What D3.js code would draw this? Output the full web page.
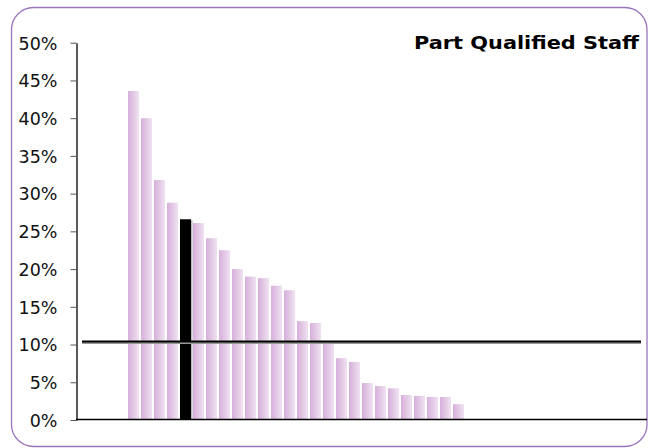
<!DOCTYPE html>
<html><head><meta charset="utf-8">
<script src="https://cdn.jsdelivr.net/npm/d3@7"></script>
<style>body{margin:0;background:#fff}svg{display:block}</style>
</head><body><svg id="c" width="656" height="448"></svg>
<script>
const categories = d3.range(1, 27).map(String);
const values = [43.6, 40.0, 31.8, 28.8, 26.6, 26.1, 24.1, 22.5, 20.0, 19.0, 18.8, 17.8, 17.2,
                13.1, 12.85, 10.4, 8.2, 7.7, 4.9, 4.5, 4.2, 3.3, 3.2, 3.05, 3.05, 2.1];
const highlight = ["5"];
const average = 10.4;
const yTicks = [0, 5, 10, 15, 20, 25, 30, 35, 40, 45, 50];
const title = "Part Qualified Staff";

const svg = d3.select("#c");
const defs = svg.append("defs");
const g = defs.append("linearGradient").attr("id","bg").attr("x1","0").attr("x2","1").attr("y1","0").attr("y2","0");
g.append("stop").attr("offset","0").attr("stop-color","#d6afda");
g.append("stop").attr("offset","1").attr("stop-color","#f0e2f2");

svg.append("rect").attr("x",11.5).attr("y",7.5).attr("width",635.5).attr("height",439)
  .attr("rx",22).attr("ry",22).attr("fill","#fff").attr("stroke","#9a74bc").attr("stroke-width",1.3);

const y = d3.scaleLinear().domain([0,50]).range([420,42.7]);
const x = d3.scaleBand().domain(categories).range([127,465]).paddingInner(0.15).paddingOuter(0.075);

svg.append("g").selectAll("rect").data(values).join("rect")
  .attr("x",(d,i)=>x(categories[i])).attr("width",x.bandwidth())
  .attr("y",d=>y(d)).attr("height",d=>y(0)-y(d))
  .attr("fill",(d,i)=>highlight.includes(categories[i])?"#000":"url(#bg)");
values.forEach((d,i)=>{ if(highlight.includes(categories[i])){
  svg.append("rect").attr("x",x(categories[i])+x.bandwidth()).attr("width",1.5)
   .attr("y",y(d)+1).attr("height",y(0)-y(d)-1).attr("fill","#bbb");
}});

const ya = d3.axisLeft(y).tickValues(yTicks).tickFormat(d=>d+"%").tickSize(6).tickSizeOuter(0);
const ay = svg.append("g").attr("transform","translate(76.5,0)").call(ya);
ay.select(".domain").attr("stroke","#000").attr("stroke-width",1.3);
ay.selectAll(".tick line").attr("stroke","#555");
ay.selectAll(".tick text").attr("font-family","DejaVu Sans, Verdana, sans-serif").attr("font-size",17.5)
  .attr("fill","#111").attr("x",-19).attr("dy","0.36em");

svg.append("line").attr("x1",76).attr("x2",647).attr("y1",y(0)-0.5).attr("y2",y(0)-0.5)
  .attr("stroke","#000").attr("stroke-width",1.5);

svg.append("line").attr("x1",82).attr("x2",641).attr("y1",y(average)+1.2).attr("y2",y(average)+1.2)
  .attr("stroke","#999").attr("stroke-width",2.5);
svg.append("line").attr("x1",82).attr("x2",641).attr("y1",y(average)).attr("y2",y(average))
  .attr("stroke","#000").attr("stroke-width",2.2);

svg.append("text").attr("x",639).attr("y",49).attr("text-anchor","end")
  .attr("font-family","DejaVu Sans, Verdana, sans-serif").attr("font-weight","bold")
  .attr("font-size",18.5).attr("textLength",225).attr("lengthAdjust","spacingAndGlyphs")
  .attr("fill","#000").text(title);
</script></body></html>
